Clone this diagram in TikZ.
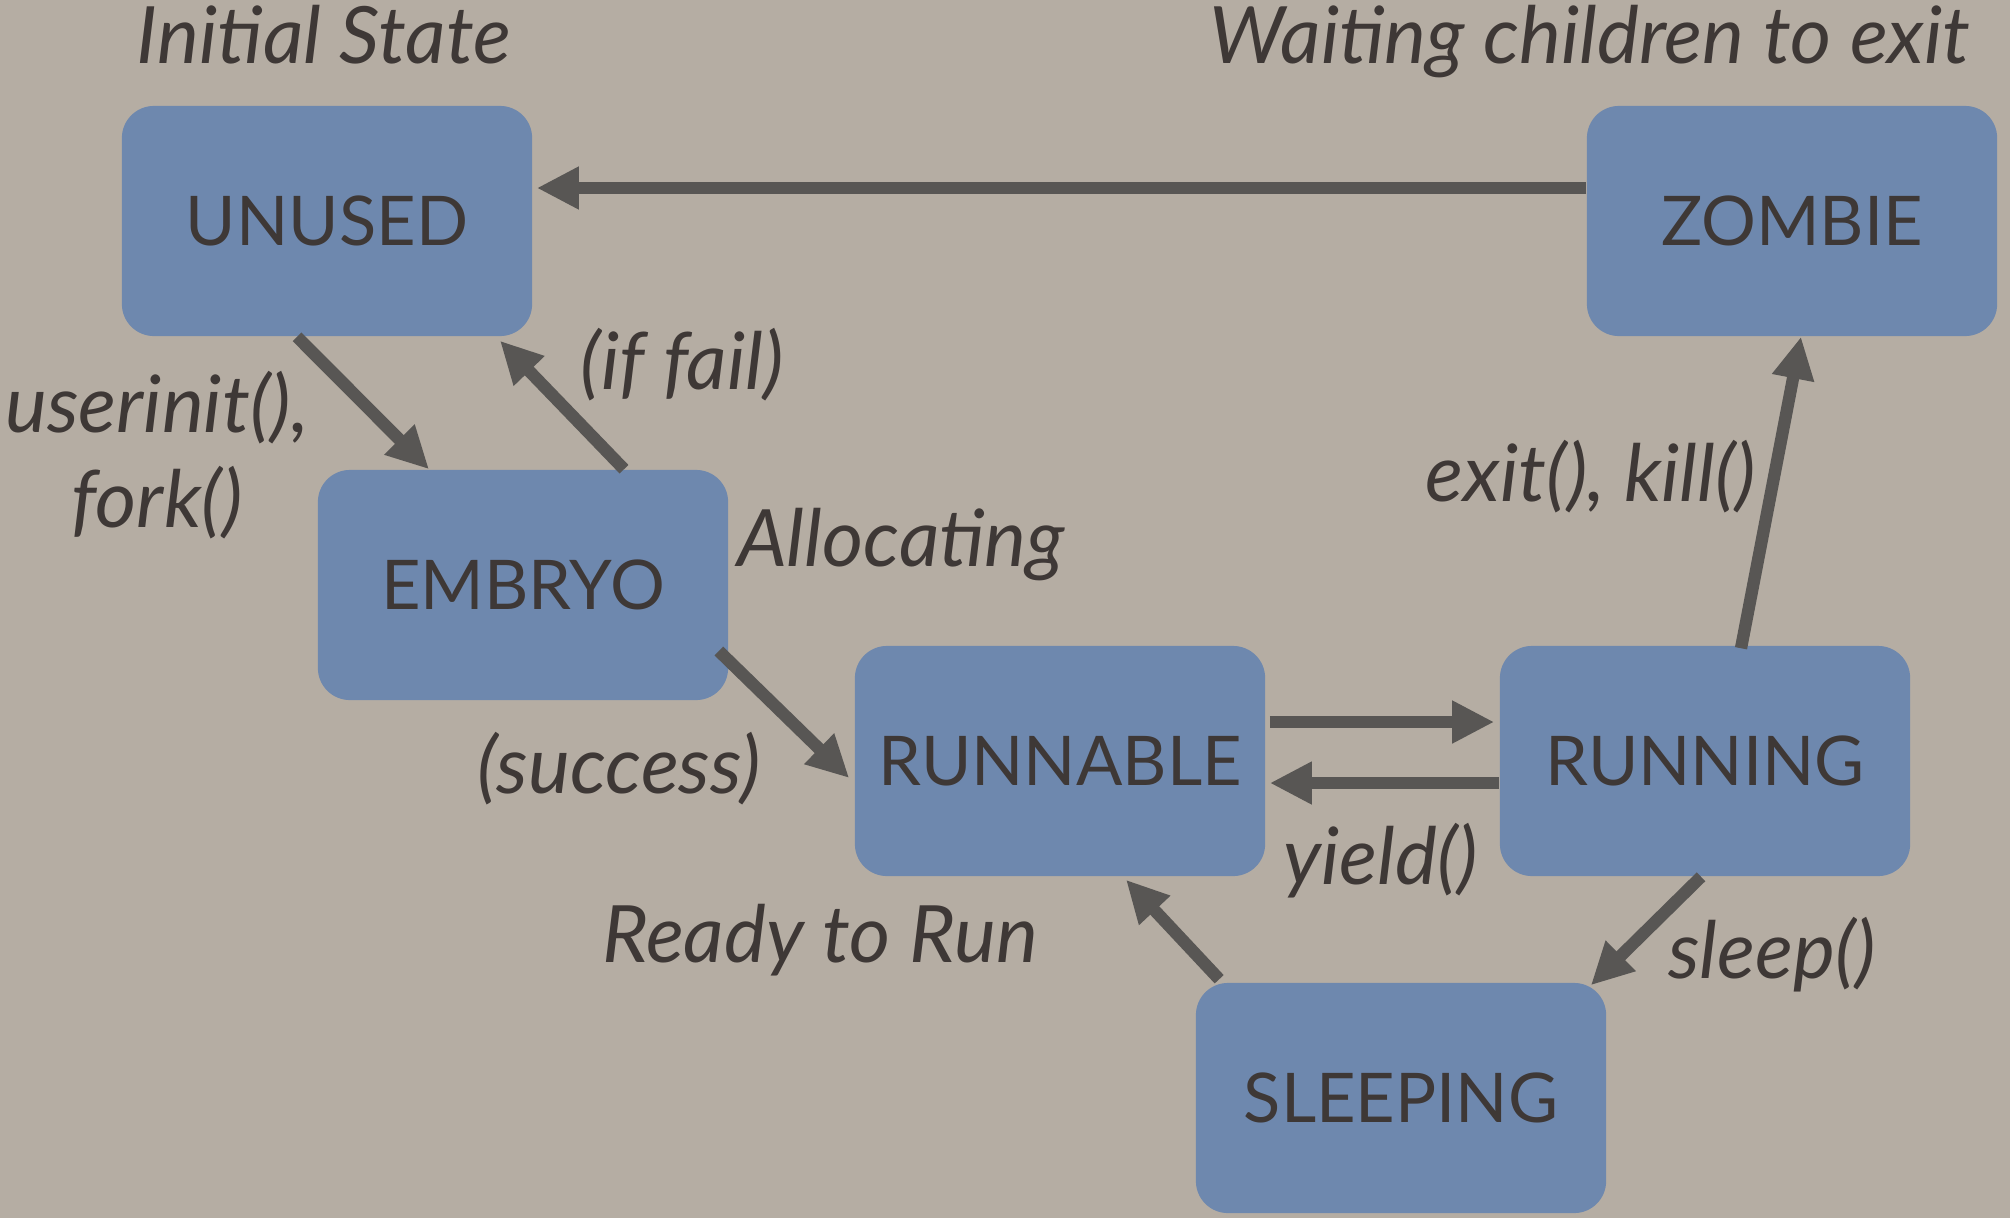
\documentclass[tikz,border=0pt]{standalone}
\usepackage{fontspec}
\setmainfont{Lato}
\usetikzlibrary{calc, arrows.meta}
\definecolor{sand}{HTML}{B5ADA3}
\definecolor{boxblue}{HTML}{6E88AE}
\definecolor{ink}{HTML}{3E3836}
\definecolor{wire}{HTML}{585654}

\begin{document}
\begin{tikzpicture}[x=0.01cm, y=-0.01cm,
                state/.style={fill=boxblue, rounded corners=0.32cm, minimum width=4.1cm, minimum height=2.3cm, text=ink, font=\fontsize{19.5}{24}\selectfont},
                note/.style={text=ink, inner sep=1pt, font=\fontsize{22.5}{27}\selectfont\itshape},
                link/.style={draw=wire, line width=3.5pt, -{Triangle[length=0.42cm, width=0.4cm]}}]
                \useasboundingbox (0,0) rectangle (2010,1218);
                \fill[sand] (0,0) rectangle (2010,1218);
                \node[state] (unused) at (327,221) {UNUSED};
                \node[state] (zombie) at (1792,221) {ZOMBIE};
                \node[state] (embryo) at (523,585) {EMBRYO};
                \node[state] (runnable) at (1060,761) {RUNNABLE};
                \node[state] (running) at (1705,761) {RUNNING};
                \node[state] (sleeping) at (1401,1098) {SLEEPING};
                \node[note, anchor=base] (initial) at (324,63) {Initial State};
                \node[note, anchor=base] (waiting) at (1590,63) {Waiting children to exit};
                \node[note, align=center] (forking) at (157,455) {userinit(),\\fork()};
                \node[note] (iffail) at (682,365) {(if fail)};
                \node[note] (allocating) at (901,545) {Allocating};
                \node[note] (success) at (619,769) {(success)};
                \node[note] (ready) at (820,940) {Ready to Run};
                \node[note] (yielding) at (1381,861) {yield()};
                \node[note] (exiting) at (1591,477) {exit(), kill()};
                \node[note] (sleepcall) at (1772,955) {sleep()};
                \draw[link] ($(zombie.west)+(0,-33)$) -- ($(unused.east)+(4,-33)$);
                \draw[link] ($(unused.south)+(-30,0)$) -- ($(embryo.north)+(-94,0)$);
                \draw[link] ($(embryo.north)+(101,0)$) -- ($(unused.south)+(173,4)$);
                \draw[link] ($(embryo.east)+(-10,66)$) -- ($(runnable.west)+(-5,17)$);
                \draw[link] ($(runnable.east)+(4,-39)$) -- ($(running.west)+(-5,-39)$);
                \draw[link] ($(running.west)+(0,22)$) -- ($(runnable.east)+(4,22)$);
                \draw[link] ($(running.north)+(36,3)$) -- ($(zombie.south)+(9,0)$);
                \draw[link] ($(running.south)+(-4,0)$) -- ($(sleeping.north east)+(-16,3)$);
                \draw[link] ($(sleeping.north west)+(24,-3)$) -- ($(runnable.south)+(66,3)$);
            \end{tikzpicture}
\end{document}
